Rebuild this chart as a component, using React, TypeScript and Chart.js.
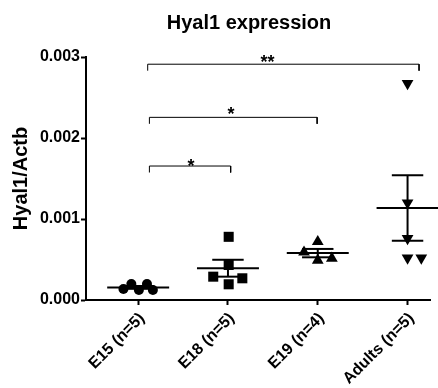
import React, { useEffect, useRef } from "react";
import { Chart, registerables } from "chart.js";

Chart.register(...registerables);

// ---- Data ----
const categories = ["E15 (n=5)", "E18 (n=5)", "E19 (n=4)", "Adults (n=5)"];

const e15Values = [0.000136, 0.000198, 0.000123, 0.000198, 0.000123];
const e15Jitter = [-0.164, -0.076, 0.008, 0.098, 0.164];

const e18Values = [0.00078, 0.000432, 0.000288, 0.000268, 0.000194];
const e18Jitter = [0.008, 0.008, -0.164, 0.16, 0.008];

const e19Values = [0.00072, 0.00059, 0.00049, 0.000515];
const e19Jitter = [0.0, -0.153, 0.0, 0.157];

const adultValues = [0.002675, 0.0012, 0.00076, 0.00052, 0.00052];
const adultJitter = [0.0, 0.0, 0.0, 0.0, 0.153];

const yTickValues = [0, 0.001, 0.002, 0.003];

// significance brackets (data coordinates)
const bracketFrom = [0.106, 0.125, 0.125];
const bracketTo = [3.128, 1.993, 1.03];
const bracketY = [0.002911, 0.002255, 0.001654];
const bracketDrop = 0.00008;
const bracketLabels = ["**", "*", "*"];
const bracketLabelX = [1.44, 1.033, 0.589];
const bracketLabelY = [0.002988, 0.002354, 0.001707];

const FONT = "'Liberation Sans', Arial, Helvetica, sans-serif";

const groups = [
  { values: e15Values, jitter: e15Jitter, style: "circle", radius: 5, rotation: 0 },
  { values: e18Values, jitter: e18Jitter, style: "rect", radius: 7.1, rotation: 0 },
  { values: e19Values, jitter: e19Jitter, style: "triangle", radius: 6.8, rotation: 0 },
  { values: adultValues, jitter: adultJitter, style: "triangle", radius: 6.8, rotation: 180 },
];

const meanOf = (a: number[]) => a.reduce((s, v) => s + v, 0) / a.length;
const semOf = (a: number[]) => {
  const m = meanOf(a);
  const sd = Math.sqrt(a.reduce((s, v) => s + (v - m) * (v - m), 0) / (a.length - 1));
  return sd / Math.sqrt(a.length);
};

const MEAN_HALF = 0.345;
const CAP_HALF = 0.175;

function lineDs(points: { x: number; y: number }[], width: number) {
  return {
    type: "scatter" as const,
    data: points,
    showLine: true,
    borderColor: "#000",
    backgroundColor: "#000",
    borderWidth: width,
    pointRadius: 0,
    pointHoverRadius: 0,
    clip: false as any,
  };
}

const textPlugin = {
  id: "texts",
  afterDraw(chart: any) {
    const { ctx, scales } = chart;
    const xs = scales.x;
    const ys = scales.y;
    ctx.save();
    ctx.fillStyle = "#000";
    // chart title
    ctx.font = `bold 20px ${FONT}`;
    ctx.textAlign = "center";
    ctx.textBaseline = "alphabetic";
    ctx.fillText("Hyal1 expression", 249, 29);
    // significance labels
    const fs = 18;
    ctx.font = `bold ${fs}px ${FONT}`;
    bracketLabels.forEach((lab, i) => {
      const px = xs.getPixelForValue(bracketLabelX[i]);
      const py = ys.getPixelForValue(bracketLabelY[i]);
      ctx.fillText(lab, px, py + 0.58 * fs);
    });
    ctx.restore();
  },
};

export default function App() {
  const ref = useRef<HTMLCanvasElement | null>(null);

  useEffect(() => {
    document.body.style.margin = "0";
    const canvas = ref.current;
    if (!canvas) return;

    const datasets: any[] = [];

    groups.forEach((g, i) => {
      const m = meanOf(g.values);
      const s = semOf(g.values);
      datasets.push({
        type: "scatter",
        data: g.values.map((v, j) => ({ x: i + g.jitter[j], y: v })),
        pointStyle: g.style,
        pointRadius: g.radius,
        pointHoverRadius: g.radius,
        rotation: g.rotation,
        backgroundColor: "#000",
        borderColor: "#000",
        borderWidth: 0,
        clip: false,
      });
      datasets.push(lineDs([{ x: i - MEAN_HALF, y: m }, { x: i + MEAN_HALF, y: m }], 2));
      datasets.push(lineDs([{ x: i, y: m - s }, { x: i, y: m + s }], 2));
      datasets.push(lineDs([{ x: i - CAP_HALF, y: m + s }, { x: i + CAP_HALF, y: m + s }], 2));
      datasets.push(lineDs([{ x: i - CAP_HALF, y: m - s }, { x: i + CAP_HALF, y: m - s }], 2));
    });

    bracketFrom.forEach((x1, i) => {
      const x2 = bracketTo[i];
      const y = bracketY[i];
      datasets.push(
        lineDs(
          [
            { x: x1, y: y - bracketDrop },
            { x: x1, y },
            { x: x2, y },
            { x: x2, y: y - bracketDrop },
          ],
          1
        )
      );
    });

    const chart = new Chart(canvas, {
      type: "scatter",
      data: { datasets },
      options: {
        animation: false,
        responsive: false,
        devicePixelRatio: 1,
        layout: { padding: { top: 57, left: 0, right: 0, bottom: 0 } },
        plugins: {
          legend: { display: false },
          tooltip: { enabled: false },
          title: { display: false },
        },
        scales: {
          x: {
            type: "linear",
            min: -0.581,
            max: 3.26,
            afterBuildTicks: (s: any) => {
              s.ticks = categories.map((_, i) => ({ value: i }));
            },
            afterFit: (s: any) => {
              s.height = 88;
            },
            ticks: {
              autoSkip: false,
              minRotation: 45,
              maxRotation: 45,
              color: "#000",
              padding: 4,
              labelOffset: 4,
              font: { family: FONT, size: 16, weight: "bold" },
              callback: (v: any) => categories[Math.round(Number(v))] ?? "",
            },
            grid: {
              drawOnChartArea: false,
              drawTicks: true,
              tickLength: 5,
              tickWidth: 2,
              tickColor: "#000",
            },
            border: { display: true, color: "#000", width: 2 },
          },
          y: {
            type: "linear",
            min: 0,
            max: 0.003,
            afterBuildTicks: (s: any) => {
              s.ticks = yTickValues.map((v) => ({ value: v }));
            },
            afterFit: (s: any) => {
              s.width = 86;
            },
            ticks: {
              color: "#000",
              padding: 1,
              font: { family: FONT, size: 16, weight: "bold" },
              callback: (v: any) => Number(v).toFixed(3),
            },
            grid: {
              drawOnChartArea: false,
              drawTicks: true,
              tickLength: 5,
              tickWidth: 2,
              tickColor: "#000",
            },
            border: { display: true, color: "#000", width: 2 },
            title: {
              display: true,
              text: "Hyal1/Actb",
              color: "#000",
              font: { family: FONT, size: 20, weight: "bold" },
              padding: { top: 9, bottom: 0 },
            },
          },
        },
      },
      plugins: [textPlugin],
    } as any);

    return () => chart.destroy();
  }, []);

  return (
    <div style={{ width: 438, height: 388 }}>
      <canvas ref={ref} width={438} height={388} style={{ display: "block" }} />
    </div>
  );
}
